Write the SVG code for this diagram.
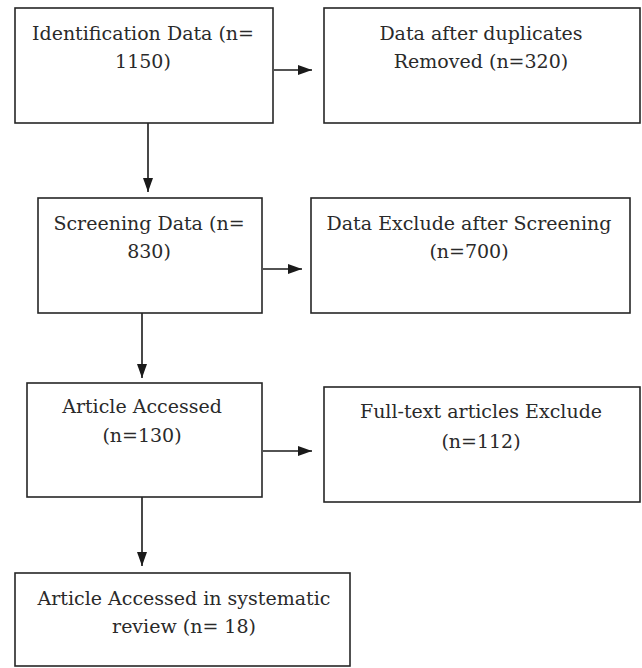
<svg xmlns="http://www.w3.org/2000/svg" width="642" height="668" viewBox="0 0 642 668">
  <style>
    .box { fill: #ffffff; stroke: #262626; stroke-width: 1.6; }
    .edge { stroke: #1a1a1a; stroke-width: 1.6; fill: none; }
  </style>
  <defs>
    <marker id="arrow" viewBox="0 0 14 10" refX="14" refY="5" markerWidth="14" markerHeight="10" markerUnits="userSpaceOnUse" orient="auto">
      <path d="M0,0 L14,5 L0,10 Z" fill="#1a1a1a"/>
    </marker>
  </defs>
  <rect width="642" height="668" fill="#ffffff"/>

  <!-- arrows between the stages -->
  <g id="connectors">
    <line class="edge" x1="274" y1="70" x2="312" y2="70" marker-end="url(#arrow)"/>
    <line class="edge" x1="148" y1="123" x2="148" y2="192" marker-end="url(#arrow)"/>
    <line class="edge" x1="263" y1="269" x2="302" y2="269" marker-end="url(#arrow)"/>
    <line class="edge" x1="142" y1="313" x2="142" y2="378" marker-end="url(#arrow)"/>
    <line class="edge" x1="263" y1="451" x2="312" y2="451" marker-end="url(#arrow)"/>
    <line class="edge" x1="142" y1="497" x2="142" y2="566" marker-end="url(#arrow)"/>
  </g>

  <g id="identification">
    <rect class="box" x="15" y="8" width="258" height="115"/>
    <text x="143" y="40" font-family="DejaVu Serif, serif" font-size="19" fill="#2a2a2a" text-anchor="middle">Identification Data (n=</text>
    <text x="143" y="68" font-family="DejaVu Serif, serif" font-size="19" fill="#2a2a2a" text-anchor="middle">1150)</text>
  </g>
  <g id="duplicates-removed">
    <rect class="box" x="324" y="8" width="316" height="115"/>
    <text x="481" y="40" font-family="DejaVu Serif, serif" font-size="19" fill="#2a2a2a" text-anchor="middle">Data after duplicates</text>
    <text x="481" y="68" font-family="DejaVu Serif, serif" font-size="19" fill="#2a2a2a" text-anchor="middle">Removed (n=320)</text>
  </g>
  <g id="screening">
    <rect class="box" x="38" y="198" width="224" height="115"/>
    <text x="149" y="230" font-family="DejaVu Serif, serif" font-size="19" fill="#2a2a2a" text-anchor="middle">Screening Data (n=</text>
    <text x="149" y="258" font-family="DejaVu Serif, serif" font-size="19" fill="#2a2a2a" text-anchor="middle">830)</text>
  </g>
  <g id="screening-excluded">
    <rect class="box" x="311" y="198" width="319" height="115"/>
    <text x="469" y="230" font-family="DejaVu Serif, serif" font-size="19" fill="#2a2a2a" text-anchor="middle">Data Exclude after Screening</text>
    <text x="469" y="258" font-family="DejaVu Serif, serif" font-size="19" fill="#2a2a2a" text-anchor="middle">(n=700)</text>
  </g>
  <g id="article-accessed">
    <rect class="box" x="27" y="383" width="235" height="114"/>
    <text x="142" y="413" font-family="DejaVu Serif, serif" font-size="19" fill="#2a2a2a" text-anchor="middle">Article Accessed</text>
    <text x="142" y="442" font-family="DejaVu Serif, serif" font-size="19" fill="#2a2a2a" text-anchor="middle">(n=130)</text>
  </g>
  <g id="fulltext-excluded">
    <rect class="box" x="324" y="387" width="316" height="115"/>
    <text x="481" y="418" font-family="DejaVu Serif, serif" font-size="19" fill="#2a2a2a" text-anchor="middle">Full-text articles Exclude</text>
    <text x="481" y="448" font-family="DejaVu Serif, serif" font-size="19" fill="#2a2a2a" text-anchor="middle">(n=112)</text>
  </g>
  <g id="included-review">
    <rect class="box" x="15" y="573" width="335" height="93"/>
    <text x="184" y="605" font-family="DejaVu Serif, serif" font-size="19" fill="#2a2a2a" text-anchor="middle">Article Accessed in systematic</text>
    <text x="184" y="633" font-family="DejaVu Serif, serif" font-size="19" fill="#2a2a2a" text-anchor="middle">review (n= 18)</text>
  </g>
</svg>
